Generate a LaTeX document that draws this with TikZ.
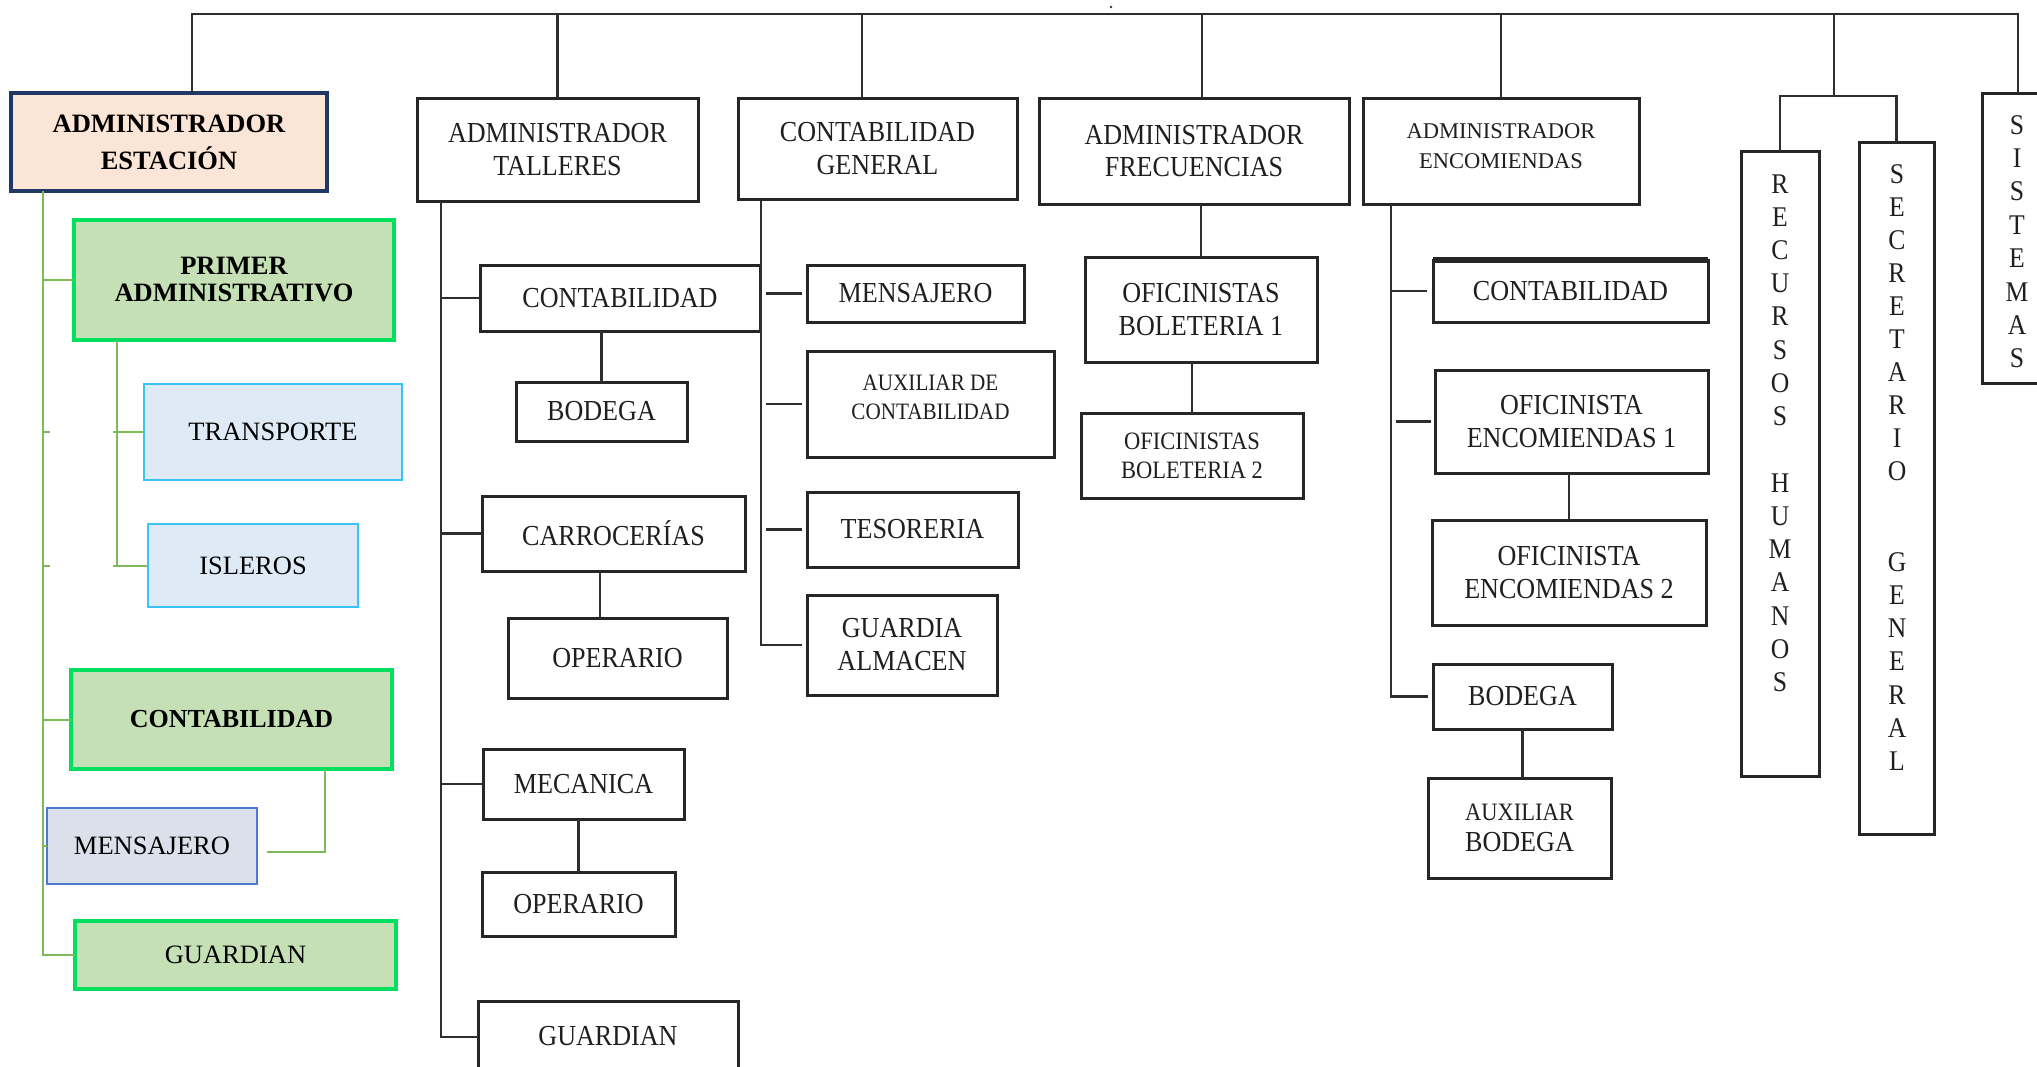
\documentclass[tikz,border=0pt]{standalone}
\usepackage{fontspec}
\setmainfont{Liberation Serif}
\newfontfamily\condfont[FakeStretch=0.9]{Liberation Serif}
\usetikzlibrary{calc}
\definecolor{peachc}{HTML}{FBE5D6}
\definecolor{navyc}{HTML}{1F3864}
\definecolor{lgreen}{HTML}{C5E0B4}
\definecolor{bgreen}{HTML}{00DF5E}
\definecolor{lblue}{HTML}{DEEBF7}
\definecolor{cyanc}{HTML}{38C5F5}
\definecolor{mfill}{HTML}{DBE0EA}
\definecolor{mborder}{HTML}{4A7BD0}
\definecolor{glinec}{HTML}{80B85C}
\newcommand{\bx}[7]{\node[#6, minimum width={(#4)-(#2)}, minimum height={(#5)-(#3)}] (#1) at ({((#2)+(#4))/2},{((#3)+(#5))/2}) {#7};}
\begin{document}
\begin{tikzpicture}[x=1pt,y=-1pt,
  basebox/.style={inner sep=0pt, outer sep=0pt, align=center},
  blk/.style={basebox, draw=black!85, line width=3pt, fill=white, text=black!88,
     font=\condfont\fontsize{29}{33}\selectfont},
  txt/.style={inner sep=0pt, align=center, text=black!88},
  peach/.style={basebox, draw=navyc, line width=3.5pt, fill=peachc,
     font=\bfseries\fontsize{26.5}{37}\selectfont},
  gbox/.style={basebox, draw=bgreen, line width=3.5pt, fill=lgreen,
     font=\fontsize{26.5}{27}\selectfont},
  bbox/.style={basebox, draw=cyanc, line width=2pt, fill=lblue,
     font=\fontsize{26.5}{30}\selectfont},
  mbox/.style={basebox, draw=mborder, line width=2pt, fill=mfill,
     font=\fontsize{26.5}{30}\selectfont},
  vl/.style={inner sep=0pt, anchor=base, text=black!88, font=\condfont\fontsize{28.5}{29}\selectfont},
  kline/.style={draw=black!82, line width=2.8pt},
  gline/.style={draw=glinec, line width=2pt}
]
\useasboundingbox (0,0) rectangle (2037,1066);
\fill[white] (0,0) rectangle (2037,1066);

% ---------- left (green) branch ----------
\bx{AE}{11}{93}{327}{191}{peach}{ADMINISTRADOR\\ESTACIÓN}
\bx{PA}{74}{220}{394}{340}{gbox, font=\bfseries\fontsize{26.5}{27}\selectfont}{PRIMER\\ADMINISTRATIVO}
\bx{TR}{144}{384}{402}{480}{bbox}{TRANSPORTE}
\bx{IS}{148}{524}{358}{607}{bbox}{ISLEROS}
\bx{CG}{71}{670}{392}{769}{gbox, font=\bfseries\fontsize{26}{30}\selectfont}{CONTABILIDAD}
\bx{ME}{47}{808}{257}{884}{mbox}{MENSAJERO}
\bx{GU}{75}{921}{396}{989}{gbox}{GUARDIAN}

% ---------- talleres ----------
\bx{AT}{417}{98}{698}{201}{blk}{ADMINISTRADOR\\TALLERES}
\bx{TC}{480}{265}{760}{331}{blk}{CONTABILIDAD}
\bx{TB}{516}{382}{687}{441}{blk}{BODEGA}
\bx{TCA}{482}{496}{745}{571}{blk}{CARROCERÍAS}
\bx{TO1}{508}{618}{727}{698}{blk}{OPERARIO}
\bx{TM}{483}{749}{684}{819}{blk}{MECANICA}
\bx{TO2}{482}{872}{675}{936}{blk}{OPERARIO}
\bx{TG}{478}{1001}{738}{1072}{blk}{GUARDIAN}

% ---------- contabilidad general ----------
\bx{CGEN}{738}{98}{1017}{199}{blk}{CONTABILIDAD\\GENERAL}
\bx{CM}{807}{265}{1024}{322}{blk}{MENSAJERO}
\bx{CA}{807}{351}{1054}{457}{blk}{}
\node[txt, font=\condfont\fontsize{23.5}{29}\selectfont] (CAtx) at (930.5,397) {AUXILIAR DE\\CONTABILIDAD};
\bx{CT}{807}{492}{1018}{567}{blk}{TESORERIA}
\bx{CGA}{807}{595}{997}{695}{blk}{GUARDIA\\ALMACEN}

% ---------- frecuencias ----------
\bx{AF}{1039}{98}{1349}{204}{blk, font=\condfont\fontsize{29}{32}\selectfont}{ADMINISTRADOR\\FRECUENCIAS}
\bx{OB1}{1085}{257}{1317}{362}{blk}{OFICINISTAS\\BOLETERIA 1}
\bx{OB2}{1081}{413}{1303}{498}{blk, font=\condfont\fontsize{25}{29}\selectfont}{OFICINISTAS\\BOLETERIA 2}

% ---------- encomiendas ----------
\bx{AEN}{1363}{98}{1639}{204}{blk}{}
\node[txt, font=\fontsize{22.5}{30}\selectfont] (AENtx) at (1501,146) {ADMINISTRADOR\\ENCOMIENDAS};
\bx{EC}{1433}{260}{1708}{322}{blk}{CONTABILIDAD}
\bx{EO1}{1435}{370}{1708}{473}{blk}{OFICINISTA\\ENCOMIENDAS 1}
\bx{EO2}{1432}{520}{1706}{625}{blk}{OFICINISTA\\ENCOMIENDAS 2}
\bx{EB}{1433}{664}{1612}{729}{blk}{BODEGA}
\bx{EAB}{1428}{778}{1611}{878}{blk, font=\condfont\fontsize{25}{31}\selectfont}{AUXILIAR\\{\fontsize{29}{31}\selectfont BODEGA}}

% ---------- vertical boxes ----------
\bx{RH}{1741}{151}{1819}{776}{blk}{}
\bx{SG}{1859}{142}{1934}{834}{blk}{}
\bx{SIS}{1982}{93}{2052}{383}{blk}{}
\foreach \l [count=\i] in {R,E,C,U,R,S,O,S} \node[vl] (rha\i) at (1780,{193+33.2*(\i-1)}) {\l};
\foreach \l [count=\i] in {H,U,M,A,N,O,S} \node[vl] (rhb\i) at (1780,{492+33.3*(\i-1)}) {\l};
\foreach \l [count=\i] in {S,E,C,R,E,T,A,R,I,O} \node[vl] (sga\i) at (1897,{183+33*(\i-1)}) {\l};
\foreach \l [count=\i] in {G,E,N,E,R,A,L} \node[vl] (sgb\i) at (1897,{571+33.3*(\i-1)}) {\l};
\foreach \l [count=\i] in {S,I,S,T,E,M,A,S} \node[vl] (sis\i) at (2017,{134+33.4*(\i-1)}) {\l};

\draw[line width=5.5pt, black!85] (EC.north west) -- (EC.north east);

% ---------- top bus ----------
\coordinate (bus1) at (192,14);
\coordinate (bus2) at (2018,14);
\coordinate (d2) at (862,14);
\coordinate (d3) at (1202,14);
\coordinate (d4) at (1834,14);
\coordinate (hs) at (1834,96);
\draw[kline] (bus1 |- AE.north) -- (bus1) -- (bus2) -- (bus2 |- SIS.north);
\draw[kline] (AT.north |- bus1) -- (AT.north);
\draw[kline] (d2) -- (d2 |- CGEN.north);
\draw[kline] (d3) -- (d3 |- AF.north);
\draw[kline] (AEN.north |- bus1) -- (AEN.north);
\draw[kline] (d4) -- (hs);
\draw[kline] (RH.north) -- (RH.north |- hs) -- (SG.north |- hs) -- (SG.north);
\fill[black!80] (1111,7) circle (1.4);

% ---------- talleres connectors ----------
\coordinate (tT) at (441,201);
\coordinate (tB) at (441,1037);
\draw[kline] (tT) -- (tB) -- (tB -| TG.west);
\draw[kline] (tT |- TC.west) -- (TC.west);
\draw[kline] (tT |- TCA.west) -- (TCA.west);
\draw[kline] (tT |- TM.west) -- (TM.west);
\draw[kline] (TB.north |- TC.south) -- (TB.north);
\coordinate (co1) at (600,571);
\draw[kline] (co1) -- (co1 |- TO1.north);
\draw[kline] (TO2.north |- TM.south) -- (TO2.north);

% ---------- contabilidad general connectors ----------
\coordinate (cgT) at (761,201);
\draw[kline] (cgT) -- (cgT |- CGA.west) -- ([xshift=-5pt]CGA.west);
\draw[kline] ([xshift=-41pt]CM.west) -- ([xshift=-5pt]CM.west);
\draw[kline] ([xshift=-41pt]CA.west) -- ([xshift=-5pt]CA.west);
\draw[kline] ([xshift=-41pt]CT.west) -- ([xshift=-5pt]CT.west);

% ---------- frecuencias connectors ----------
\draw[kline] (OB1.north |- AF.south) -- (OB1.north);
\draw[kline] (OB2.north |- OB1.south) -- (OB2.north);

% ---------- encomiendas connectors ----------
\coordinate (enT) at (1391,204);
\draw[kline] (enT) -- (enT |- EB.west) -- ([xshift=-5pt]EB.west);
\draw[kline] (enT |- EC.west) -- ([xshift=-6pt]EC.west);
\draw[kline] ([xshift=-39pt]EO1.west) -- ([xshift=-4pt]EO1.west);
\draw[kline] (EO2.north |- EO1.south) -- (EO2.north);
\draw[kline] (EAB.north -| EB.south) -- (EB.south);

% ---------- green connectors ----------
\coordinate (gT) at (43,191);
\draw[gline] (gT) -- (gT |- GU.west) -- (GU.west);
\draw[gline] (gT |- PA.west) -- (PA.west);
\draw[gline] (gT |- CG.west) -- (CG.west);
\draw[gline] (gT |- ME.west) -- (ME.west);
\draw[gline] (gT |- TR.west) -- ++(7,0);
\draw[gline] (gT |- IS.west) -- ++(7,0);
\coordinate (pT) at (117,340);
\draw[gline] (pT) -- (pT |- IS.west);
\draw[gline] ([xshift=-31pt]TR.west) -- (TR.west);
\draw[gline] ([xshift=-35pt]IS.west) -- (IS.west);
\coordinate (cm1) at (325,769);
\coordinate (cm2) at (325,852);
\draw[gline] (cm1) -- (cm2) -- ([xshift=10pt]ME.east |- cm2);
\end{tikzpicture}
\end{document}
